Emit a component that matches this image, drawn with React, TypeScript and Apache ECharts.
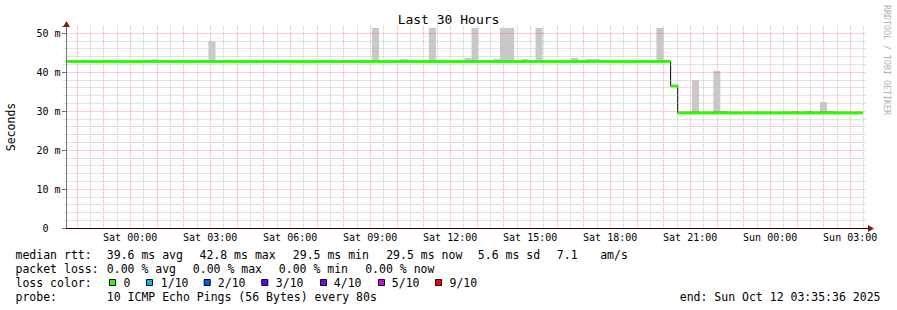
import React, { useEffect, useRef } from 'react';
import * as echarts from 'echarts';

const FONT = '"DejaVu Sans Mono", monospace';

// Time is expressed in hours relative to Sat 00:00.
const AXIS_START = -2.5; // Fri 21:30 (grid aligned, hidden left of the y axis)
const PLOT_END = 27.59333; // Sun 03:35:36
const BIN_ORIGIN = -2.4; // Fri 21:36:00, first 960 s consolidation step
const BIN_HOURS = 960 / 3600;

const tickHours = [0, 3, 6, 9, 12, 15, 18, 21, 24, 27];
const tickLabels = [
  'Sat 00:00', 'Sat 03:00', 'Sat 06:00', 'Sat 09:00', 'Sat 12:00',
  'Sat 15:00', 'Sat 18:00', 'Sat 21:00', 'Sun 00:00', 'Sun 03:00',
];

// median RTT per 960 s step (ms)
const medianRtt = [
  42.7, 42.7, 42.7, 42.7, 42.7, 42.7, 42.7, 42.7, 42.7, 42.7,
  42.7, 42.7, 42.7, 42.7, 42.7, 42.7, 42.7, 42.7, 42.7, 42.7,
  42.7, 42.7, 42.7, 42.7, 42.7, 42.7, 42.7, 42.7, 42.7, 42.7,
  42.7, 42.7, 42.7, 42.7, 42.7, 42.7, 42.7, 42.7, 42.7, 42.7,
  42.7, 42.7, 42.7, 42.7, 42.7, 42.7, 42.7, 42.7, 42.7, 42.7,
  42.7, 42.7, 42.7, 42.7, 42.7, 42.7, 42.7, 42.7, 42.7, 42.7,
  42.7, 42.7, 42.7, 42.7, 42.7, 42.7, 42.7, 42.7, 42.7, 42.7,
  42.7, 42.7, 42.7, 42.7, 42.7, 42.7, 42.7, 42.7, 42.7, 42.7,
  42.7, 42.7, 42.7, 42.7, 42.7, 36.4, 29.5, 29.5, 29.5, 29.5,
  29.5, 29.5, 29.5, 29.5, 29.5, 29.5, 29.5, 29.5, 29.5, 29.5,
  29.5, 29.5, 29.5, 29.5, 29.5, 29.5, 29.5, 29.5, 29.5, 29.5,
  29.5, 29.5,
];

// highest ping per step (top of the smoke, ms)
const smokeTop = [
  42.7, 42.7, 42.7, 42.7, 42.7, 42.7, 42.7, 43.1, 42.7, 42.7,
  42.7, 42.7, 43.3, 42.7, 42.7, 43.1, 42.7, 42.7, 42.7, 42.7,
  47.9, 42.7, 42.7, 43.1, 43.1, 43.1, 42.7, 42.7, 42.7, 42.7,
  42.7, 43.1, 42.7, 43.1, 42.7, 42.7, 42.7, 43.1, 42.7, 42.7,
  42.7, 43.1, 43.1, 51.3, 42.7, 43.1, 42.7, 43.3, 43.1, 42.7,
  42.7, 51.3, 43.1, 42.7, 42.7, 42.7, 43.6, 51.3, 42.7, 42.7,
  43.3, 51.3, 51.3, 42.7, 43.3, 42.7, 51.3, 43.1, 42.7, 42.7,
  43.1, 43.6, 42.7, 43.3, 43.3, 42.7, 42.7, 43.1, 43.1, 42.7,
  42.7, 42.7, 42.7, 51.3, 43.1, 36.4, 29.5, 29.5, 37.9, 29.5,
  29.5, 40.3, 30.0, 29.5, 29.5, 29.5, 29.5, 29.5, 29.5, 29.5,
  29.5, 29.5, 30.0, 29.5, 30.0, 29.5, 32.3, 30.0, 29.5, 29.5,
  29.5, 29.5,
];

const lossLabels = ['0', '1/10', '2/10', '3/10', '4/10', '5/10', '9/10'];
const lossColors = ['#26ff00', '#00b8ff', '#0059ff', '#5e00ff', '#7e00ff', '#dd00ff', '#ff0000'];

const statsLine1 = ['median rtt:', '39.6 ms avg', '42.8 ms max', '29.5 ms min', '29.5 ms now', '5.6 ms sd', '7.1', 'am/s'];
const statsLine2 = ['packet loss:', '0.00 % avg', '0.00 % max', '0.00 % min', '0.00 % now'];
const probeText = '10 ICMP Echo Pings (56 Bytes) every 80s';
const endText = 'end: Sun Oct 12 03:35:36 2025';

// layout (pixel positions of legend pieces)
const line1X = [15.5, 106.8, 199.5, 292.8, 386.2, 477.8, 556.8, 600.2];
const line2X = [15.5, 106.8, 192.8, 278.8, 365.2];
const boxX = [109, 146, 203.7, 261.3, 320, 378, 435];
const boxLabelX = [123.5, 160.8, 217.8, 275.8, 333.8, 391.8, 449.5];

const MAJOR = 'rgba(255,0,0,0.36)';
const MINOR = '#c6c6c6';

export default function App() {
  const ref = useRef<HTMLDivElement>(null);
  useEffect(() => {
    if (!ref.current) return;
    const chart = echarts.init(ref.current, null, { renderer: 'svg' });

    const bins = medianRtt.map((m, i) => [
      BIN_ORIGIN + i * BIN_HOURS,
      BIN_ORIGIN + (i + 1) * BIN_HOURS,
      m,
      smokeTop[i],
    ]);
    const stepData = medianRtt.map((m, i) => [BIN_ORIGIN + i * BIN_HOURS, m]);
    stepData.push([BIN_ORIGIN + medianRtt.length * BIN_HOURS, medianRtt[medianRtt.length - 1]]);

    const legendFont = `11.5px ${FONT}`;
    const graphics: any[] = [];
    const addText = (x: number, y: number, text: string, align = 'left') =>
      graphics.push({
        type: 'text', x, y, silent: true,
        style: { text, font: legendFont, fill: '#000', align, verticalAlign: 'middle' },
      });
    statsLine1.forEach((t, i) => addText(line1X[i], 254.5, t));
    statsLine2.forEach((t, i) => addText(line2X[i], 268.5, t));
    addText(15.5, 282.5, 'loss color:');
    lossLabels.forEach((t, i) => {
      graphics.push({
        type: 'rect', silent: true,
        shape: { x: boxX[i] + 0.5, y: 279.5, width: 6, height: 6 },
        style: { fill: lossColors[i], stroke: '#000', lineWidth: 1 },
      });
      addText(boxLabelX[i], 282.5, t);
    });
    addText(15.5, 296.5, 'probe:');
    addText(106.8, 296.5, probeText);
    addText(880.5, 296.5, endText, 'right');
    graphics.push({
      type: 'text', x: 887, y: 60, rotation: -Math.PI / 2, silent: true,
      style: { text: 'RRDTOOL / TOBI OETIKER', font: `8.3px ${FONT}`, fill: '#b0b0b0', align: 'center', verticalAlign: 'middle' },
    });
    // y axis title
    graphics.push({
      type: 'text', x: 11, y: 127, rotation: Math.PI / 2, silent: true,
      style: { text: 'Seconds', font: legendFont, fill: '#000', align: 'center', verticalAlign: 'middle' },
    });
    // hide the grid line of the (off-plot) axis start, left of the y axis
    graphics.push({
      type: 'rect', silent: true, z: 5,
      shape: { x: 62.8, y: 25, width: 1.6, height: 202.5 },
      style: { fill: '#fff' },
    });
    // axis arrows
    graphics.push({
      type: 'polygon', silent: true, z: 20,
      shape: { points: [[63, 27], [70, 27], [66.5, 21]] },
      style: { fill: '#7f1d1d' },
    });
    graphics.push({
      type: 'line', silent: true,
      shape: { x1: 866, y1: 228.5, x2: 869, y2: 228.5 },
      style: { stroke: '#000', lineWidth: 1 },
    });
    graphics.push({
      type: 'polygon', silent: true, z: 20,
      shape: { points: [[868, 225], [868, 232], [874, 228.5]] },
      style: { fill: '#7f1d1d' },
    });

    const yLabel = (v: number) => {
      const r = Math.round(v / 10) * 10;
      if (Math.abs(v - r) > 1e-6 || r > 50) return '';
      return r === 0 ? '0\u00a0\u00a0' : `${r} m`;
    };

    chart.setOption({
      animation: false,
      backgroundColor: '#fff',
      title: {
        text: 'Last 30 Hours', left: 'center', top: 13, padding: 0,
        textStyle: { fontFamily: FONT, fontSize: 13, fontWeight: 'normal', color: '#000' },
      },
      grid: { left: 63.51, right: 31, top: 26, bottom: 82, containLabel: false, outerBoundsMode: 'none' },
      xAxis: {
        type: 'value', min: AXIS_START, max: PLOT_END, interval: 0.5,
        axisLine: { show: true, onZero: false, lineStyle: { color: '#000', width: 1 } },
        axisTick: { show: false },
        axisLabel: {
          fontFamily: FONT, fontSize: 10, color: '#000', margin: 4,
          formatter: (v: number) => {
            const i = tickHours.findIndex((h) => Math.abs(h - v) < 1e-6);
            return i >= 0 ? tickLabels[i] : '';
          },
        },
        splitLine: {
          show: true, showMinLine: true, showMaxLine: false,
          lineStyle: { color: [MINOR, MAJOR], type: [1, 1], width: 1 },
        },
      },
      yAxis: [
        {
          type: 'value', min: 0, max: 51.795, interval: 2, position: 'left', offset: -2.5, z: 10,
          axisLine: { show: true, onZero: false, lineStyle: { color: '#707070', width: 1 } },
          axisTick: { show: false },
          axisLabel: { fontFamily: FONT, fontSize: 10, color: '#000', margin: 5.5, formatter: yLabel },
          splitLine: {
            show: true, showMaxLine: false,
            lineStyle: { color: [MAJOR, MINOR, MINOR, MINOR, MINOR], type: [1, 1], width: 1 },
          },
        },
        {
          type: 'value', min: 0, max: 51.795, interval: 10, position: 'left', offset: -2.5, z: 10,
          axisLine: { show: false, onZero: false },
          axisTick: { show: true, length: 4, lineStyle: { color: '#707070' } },
          axisLabel: { show: false },
          splitLine: { show: false },
        },
      ],
      series: [
        {
          name: 'smoke', type: 'custom', z: 2, silent: true,
          encode: { x: [0, 1], y: [2, 3] },
          data: bins,
          renderItem: (params: any, api: any) => {
            const lo = api.value(2);
            const hi = api.value(3);
            if (hi - lo < 0.05) return { type: 'group', children: [] };
            const p0 = api.coord([api.value(0), hi]);
            const p1 = api.coord([api.value(1), lo]);
            return {
              type: 'rect',
              shape: { x: p0[0], y: p0[1], width: p1[0] - p0[0], height: p1[1] - p0[1] },
              style: { fill: '#c8c8c8' },
            };
          },
        },
        {
          name: 'median', type: 'line', z: 3, silent: true, step: 'end',
          showSymbol: false, symbol: 'none',
          data: stepData,
          lineStyle: { color: '#000', width: 1 },
        },
        {
          name: 'loss 0', type: 'custom', z: 4, silent: true,
          encode: { x: [0, 1], y: 2 },
          data: bins,
          renderItem: (params: any, api: any) => {
            const m = api.value(2);
            const p0 = api.coord([api.value(0), m]);
            const p1 = api.coord([api.value(1), m]);
            return {
              type: 'line',
              shape: { x1: p0[0], y1: p0[1], x2: p1[0], y2: p1[1] },
              style: { stroke: lossColors[0], lineWidth: 3 },
            };
          },
        },
      ],
      graphic: graphics,
    });
    return () => chart.dispose();
  }, []);
  return (
    <div
      ref={ref}
      style={{ position: 'fixed', left: 0, top: 0, width: 897, height: 310, background: '#fff' }}
    />
  );
}
